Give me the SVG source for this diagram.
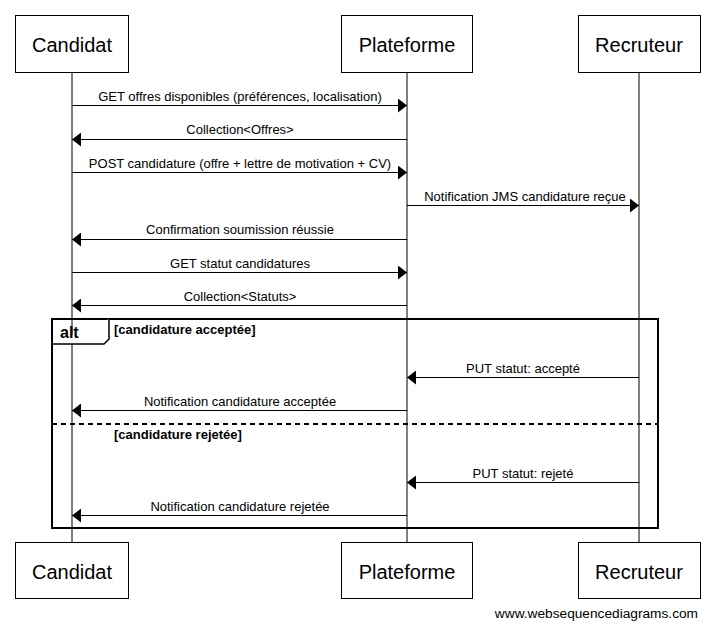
<svg xmlns="http://www.w3.org/2000/svg" width="715" height="633" viewBox="0 0 715 633">
<style>
.box{fill:#fff;stroke:#000;stroke-width:1}
.life{stroke:#000;stroke-width:1}
.pt{font-family:"Liberation Sans",Arial,sans-serif;font-size:20px;fill:#000;text-anchor:middle}
.msg{stroke:#000;stroke-width:1;fill:none;marker-end:url(#ah)}
.ml{font-family:"Liberation Sans",Arial,sans-serif;font-size:13px;fill:#000;text-anchor:middle}
.frame{fill:none;stroke:#000;stroke-width:2}
.guard{font-family:"Liberation Sans",Arial,sans-serif;font-size:13px;font-weight:bold;fill:#000}
.wm{font-family:"Liberation Sans",Arial,sans-serif;font-size:13.7px;fill:#000;text-anchor:end}
</style>
<defs>
<marker id="ah" markerUnits="userSpaceOnUse" markerWidth="9" markerHeight="14" refX="9" refY="7" orient="auto">
<path d="M0,0 L9,7 L0,14 Z" fill="#000"/>
</marker>
</defs>
<rect width="715" height="633" fill="#fff"/>
<g id="lifelines">
<line class="life" x1="72" y1="72" x2="72" y2="542"/>
<line class="life" x1="407" y1="72" x2="407" y2="542"/>
<line class="life" x1="639" y1="72" x2="639" y2="542"/>
</g>
<g id="Candidat">
<rect class="box" x="15.5" y="15.5" width="113" height="57"/>
<text class="pt" x="72" y="52">Candidat</text>
<rect class="box" x="15.5" y="542.5" width="113" height="56"/>
<text class="pt" x="72" y="579">Candidat</text>
</g>
<g id="Plateforme">
<rect class="box" x="341.5" y="15.5" width="131" height="57"/>
<text class="pt" x="407" y="52">Plateforme</text>
<rect class="box" x="341.5" y="542.5" width="131" height="56"/>
<text class="pt" x="407" y="579">Plateforme</text>
</g>
<g id="Recruteur">
<rect class="box" x="578.5" y="15.5" width="122" height="57"/>
<text class="pt" x="639" y="52">Recruteur</text>
<rect class="box" x="578.5" y="542.5" width="122" height="56"/>
<text class="pt" x="639" y="579">Recruteur</text>
</g>
<g id="alt">
<rect class="frame" x="52" y="319" width="606" height="209"/>
<path d="M52,344 L104,344 L109,339 L109,319" fill="#fff" stroke="#000" stroke-width="1.5"/>
<text x="60" y="338" font-family="Liberation Sans,Arial,sans-serif" font-size="16px" font-weight="bold">alt</text>
<text class="guard" x="114" y="334">[candidature acceptée]</text>
<line x1="52" y1="424" x2="658" y2="424" stroke="#000" stroke-width="2" stroke-dasharray="5,4"/>
<text class="guard" x="114" y="439">[candidature rejetée]</text>
</g>
<g id="connectors">
<line class="msg" x1="72" y1="105.5" x2="407" y2="105.5"/>
<text class="ml" x="240" y="101">GET offres disponibles (préférences, localisation)</text>
<line class="msg" x1="407" y1="139.5" x2="72" y2="139.5"/>
<text class="ml" x="240" y="134">Collection&lt;Offres&gt;</text>
<line class="msg" x1="72" y1="172.5" x2="407" y2="172.5"/>
<text class="ml" x="240" y="168">POST candidature (offre + lettre de motivation + CV)</text>
<line class="msg" x1="407" y1="205.5" x2="639" y2="205.5"/>
<text class="ml" x="525" y="201">Notification JMS candidature reçue</text>
<line class="msg" x1="407" y1="239.5" x2="72" y2="239.5"/>
<text class="ml" x="240" y="234">Confirmation soumission réussie</text>
<line class="msg" x1="72" y1="272.5" x2="407" y2="272.5"/>
<text class="ml" x="240" y="268">GET statut candidatures</text>
<line class="msg" x1="407" y1="305.5" x2="72" y2="305.5"/>
<text class="ml" x="240" y="301">Collection&lt;Statuts&gt;</text>
<line class="msg" x1="639" y1="377.5" x2="407" y2="377.5"/>
<text class="ml" x="523" y="373">PUT statut: accepté</text>
<line class="msg" x1="407" y1="410.5" x2="72" y2="410.5"/>
<text class="ml" x="240" y="406">Notification candidature acceptée</text>
<line class="msg" x1="639" y1="482.5" x2="407" y2="482.5"/>
<text class="ml" x="523" y="478">PUT statut: rejeté</text>
<line class="msg" x1="407" y1="515.5" x2="72" y2="515.5"/>
<text class="ml" x="240" y="511">Notification candidature rejetée</text>
</g>
<text class="wm" x="698" y="618">www.websequencediagrams.com</text>
</svg>
